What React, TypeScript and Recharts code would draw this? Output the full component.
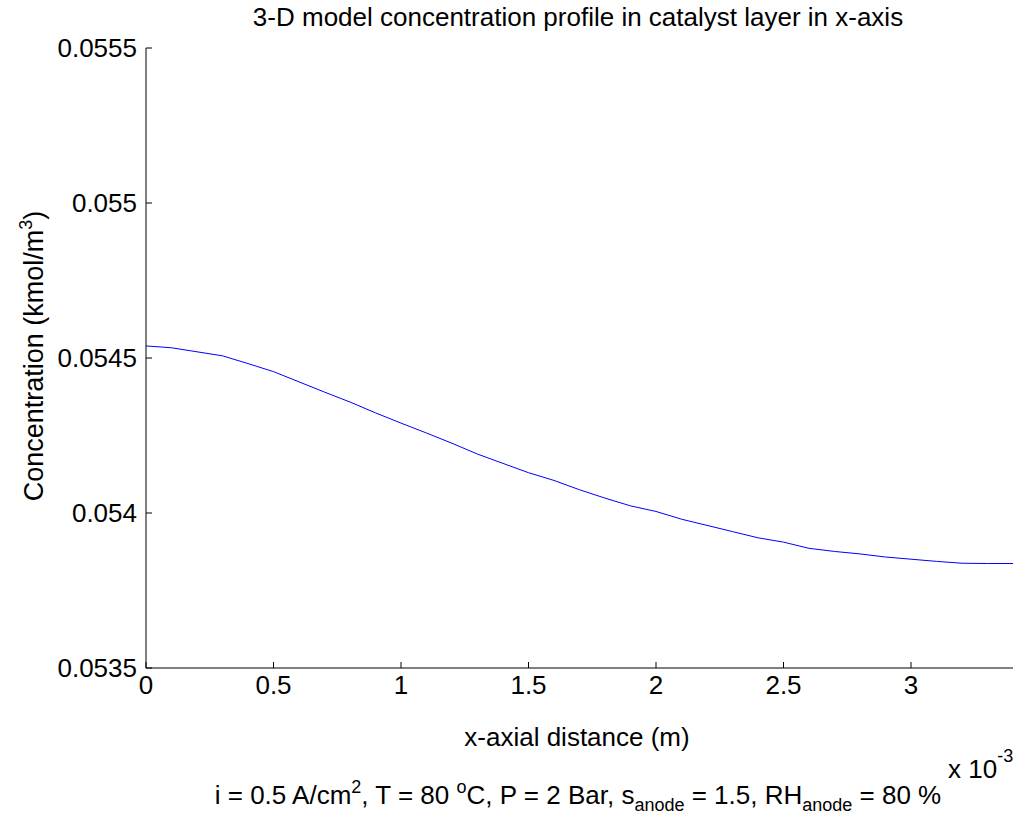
import React from 'react';
import { LineChart, Line, XAxis, YAxis } from 'recharts';

// x-axial distance (m)
const xDistance = [
  0, 0.0001, 0.0002, 0.0003, 0.0004, 0.0005, 0.0006, 0.0007, 0.0008, 0.0009,
  0.001, 0.0011, 0.0012, 0.0013, 0.0014, 0.0015, 0.0016, 0.0017, 0.0018, 0.0019,
  0.002, 0.0021, 0.0022, 0.0023, 0.0024, 0.0025, 0.0026, 0.0027, 0.0028, 0.0029,
  0.003, 0.0031, 0.0032, 0.0033, 0.0034,
];

// Concentration (kmol/m^3)
const concentration = [
  0.054539, 0.054533, 0.05452, 0.054507, 0.054482, 0.054456, 0.054423, 0.05439, 0.054358, 0.054323,
  0.05429, 0.054258, 0.054225, 0.05419, 0.05416, 0.05413, 0.054105, 0.054075, 0.054048, 0.054023,
  0.054005, 0.05398, 0.05396, 0.05394, 0.05392, 0.053906, 0.053886, 0.053876, 0.053868, 0.053858,
  0.053851, 0.053844, 0.053838, 0.053837, 0.053837,
];

const xTickValues = [0, 0.0005, 0.001, 0.0015, 0.002, 0.0025, 0.003];
const xTickLabels = ['0', '0.5', '1', '1.5', '2', '2.5', '3'];
const yTickValues = [0.0535, 0.054, 0.0545, 0.055, 0.0555];
const yTickLabels = ['0.0535', '0.054', '0.0545', '0.055', '0.0555'];

const xDomain = [0, 0.0034];
const yDomain = [0.0535, 0.0555];

const data = xDistance.map((x, i) => ({ x, c: concentration[i] }));

const FONT = '"Liberation Sans", Arial, Helvetica, sans-serif';
const FS = 26;
const SUB = 18;
const TICK = 6;

const BottomTick = (props: any) => {
  const { x, y, index } = props;
  return (
    <g>
      <line x1={x} y1={y} x2={x} y2={y - TICK} stroke="#000" strokeWidth={1} />
      <text x={x} y={y + 26} textAnchor="middle" fontSize={FS} fontFamily={FONT} fill="#000">
        {xTickLabels[index]}
      </text>
    </g>
  );
};

const TopTick = (props: any) => {
  const { x, y } = props;
  return <line x1={x} y1={y} x2={x} y2={y + TICK} stroke="#000" strokeWidth={1} />;
};

const LeftTick = (props: any) => {
  const { x, y, index } = props;
  return (
    <g>
      <line x1={x} y1={y} x2={x + TICK} y2={y} stroke="#000" strokeWidth={1} />
      <text x={x - 9} y={y + 9} textAnchor="end" fontSize={FS} fontFamily={FONT} fill="#000">
        {yTickLabels[index]}
      </text>
    </g>
  );
};

const RightTick = (props: any) => {
  const { x, y } = props;
  return <line x1={x} y1={y} x2={x - TICK} y2={y} stroke="#000" strokeWidth={1} />;
};

export default function App() {
  return (
    <div style={{ position: 'absolute', left: 0, top: 0, width: 1016, height: 814, background: '#fff' }}>
      <LineChart
        width={1016}
        height={814}
        data={data}
        margin={{ top: 48, right: 3, bottom: 0, left: 0 }}
      >
        <XAxis
          xAxisId="bottom"
          dataKey="x"
          type="number"
          domain={xDomain}
          ticks={xTickValues}
          allowDataOverflow
          height={146}
          tickSize={0}
          tickMargin={0}
          tickLine={false}
          axisLine={{ stroke: '#000', strokeWidth: 1 }}
          tick={<BottomTick />}
          interval={0}
        />
        <XAxis
          xAxisId="top"
          orientation="top"
          dataKey="x"
          type="number"
          domain={xDomain}
          ticks={xTickValues}
          allowDataOverflow
          height={0}
          tickSize={0}
          tickMargin={0}
          tickLine={false}
          axisLine={{ stroke: '#000', strokeWidth: 1 }}
          tick={<TopTick />}
          interval={0}
        />
        <YAxis
          yAxisId="left"
          type="number"
          domain={yDomain}
          ticks={yTickValues}
          allowDataOverflow
          width={146}
          tickSize={0}
          tickMargin={0}
          tickLine={false}
          axisLine={{ stroke: '#000', strokeWidth: 1 }}
          tick={<LeftTick />}
          interval={0}
        />
        <YAxis
          yAxisId="right"
          orientation="right"
          type="number"
          domain={yDomain}
          ticks={yTickValues}
          allowDataOverflow
          width={0}
          tickSize={0}
          tickMargin={0}
          tickLine={false}
          axisLine={{ stroke: '#000', strokeWidth: 1 }}
          tick={<RightTick />}
          interval={0}
        />
        <Line
          xAxisId="bottom"
          yAxisId="left"
          type="linear"
          dataKey="c"
          stroke="#0000ff"
          strokeWidth={1}
          dot={false}
          isAnimationActive={false}
        />
      </LineChart>
      <svg
        width={1016}
        height={814}
        style={{ position: 'absolute', left: 0, top: 0, pointerEvents: 'none' }}
        fontFamily={FONT}
        fill="#000"
      >
        <text x={578} y={26} textAnchor="middle" fontSize={FS}>
          3-D model concentration profile in catalyst layer in x-axis
        </text>
        <text x={577} y={746} textAnchor="middle" fontSize={FS}>
          x-axial distance (m)
        </text>
        <text x={948} y={778} fontSize={FS}>
          x 10<tspan dy={-16} fontSize={SUB}>-3</tspan>
        </text>
        <text x={43} y={356} textAnchor="middle" fontSize={27} transform="rotate(-90 43 356)">
          Concentration (kmol/m<tspan dy={-11} fontSize={SUB}>3</tspan><tspan dy={11}>)</tspan>
        </text>
        <text x={578} y={804} textAnchor="middle" fontSize={FS}>
          i = 0.5 A/cm<tspan dy={-11} fontSize={SUB}>2</tspan>
          <tspan dy={11}>, T = 80 </tspan>
          <tspan dy={-11} fontSize={SUB}>o</tspan>
          <tspan dy={11}>C, P = 2 Bar, s</tspan>
          <tspan dy={7} fontSize={SUB}>anode</tspan>
          <tspan dy={-7}> = 1.5, RH</tspan>
          <tspan dy={7} fontSize={SUB}>anode</tspan>
          <tspan dy={-7}> = 80 %</tspan>
        </text>
      </svg>
    </div>
  );
}
